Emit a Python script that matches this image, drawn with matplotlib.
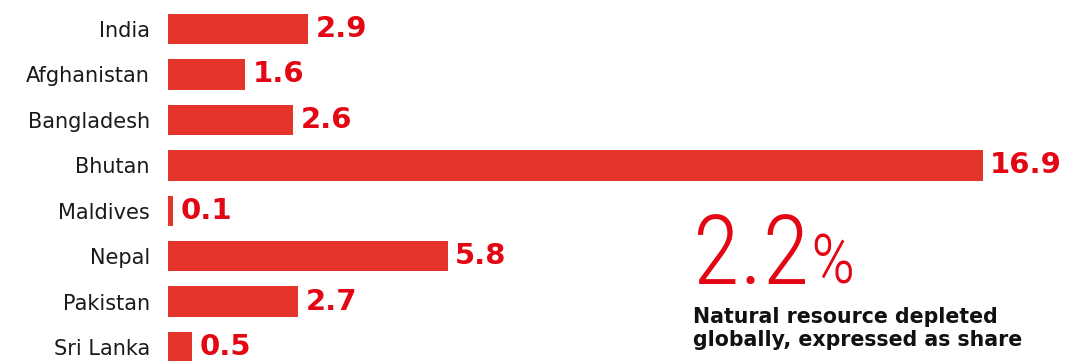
import matplotlib
matplotlib.use("Agg")
import matplotlib.pyplot as plt

countries = ["India", "Afghanistan", "Bangladesh", "Bhutan", "Maldives", "Nepal", "Pakistan", "Sri Lanka"]
values = [2.9, 1.6, 2.6, 16.9, 0.1, 5.8, 2.7, 0.5]
value_labels = ["2.9", "1.6", "2.6", "16.9", "0.1", "5.8", "2.7", "0.5"]
big_number = "2.2"
big_unit = "%"
caption = "Natural resource depleted\nglobally, expressed as share"

W, H = 1065, 361
fig = plt.figure(figsize=(W / 100, H / 100), dpi=100)
fig.patch.set_facecolor("white")

px_per_unit = 48.2
left_px = 168
row0 = 29
step = 45.43
ax = fig.add_axes([left_px / W, 0, 1 - left_px / W, 1])
ax.set_xlim(0, (W - left_px) / px_per_unit)
ax.set_ylim((H - row0) / step, -row0 / step)
for s in ax.spines.values():
    s.set_visible(False)
ax.set_xticks([])

ypos = list(range(len(countries)))
ax.barh(ypos, values, height=0.67, color="#E5352A", align="center")
ax.set_yticks(ypos)
ax.set_yticklabels(countries, fontsize=15, color="#1a1a1a", family=["DejaVu Sans"])
ax.tick_params(axis="y", length=0, pad=13)

for y, v, lab in zip(ypos, values, value_labels):
    ax.annotate(lab, (v, y), xytext=(5.5, 0), textcoords="offset points",
                ha="left", va="center", fontsize=21, fontweight="heavy",
                color="#E30613", family=["DejaVu Sans"])

big_fam = ["Roboto Condensed", "Roboto", "DejaVu Sans"]
t_big = fig.text(693 / W, 1 - 284 / H, big_number, fontsize=69, color="#E30613",
                 fontweight="light", family=big_fam, ha="left", va="baseline")
fig.canvas.draw()
bb = t_big.get_window_extent(renderer=fig.canvas.get_renderer())
fig.text((bb.x1 + 1) / W, 1 - 284 / H, big_unit, fontsize=50, color="#E30613",
         fontweight="light", family=big_fam, ha="left", va="baseline")
fig.text(693 / W, 1 - 346 / H, caption, fontsize=14.8, color="#111111",
         fontweight="bold", family=["DejaVu Sans"], ha="left", va="baseline",
         linespacing=1.2)

fig.savefig("out.png", dpi=100)
